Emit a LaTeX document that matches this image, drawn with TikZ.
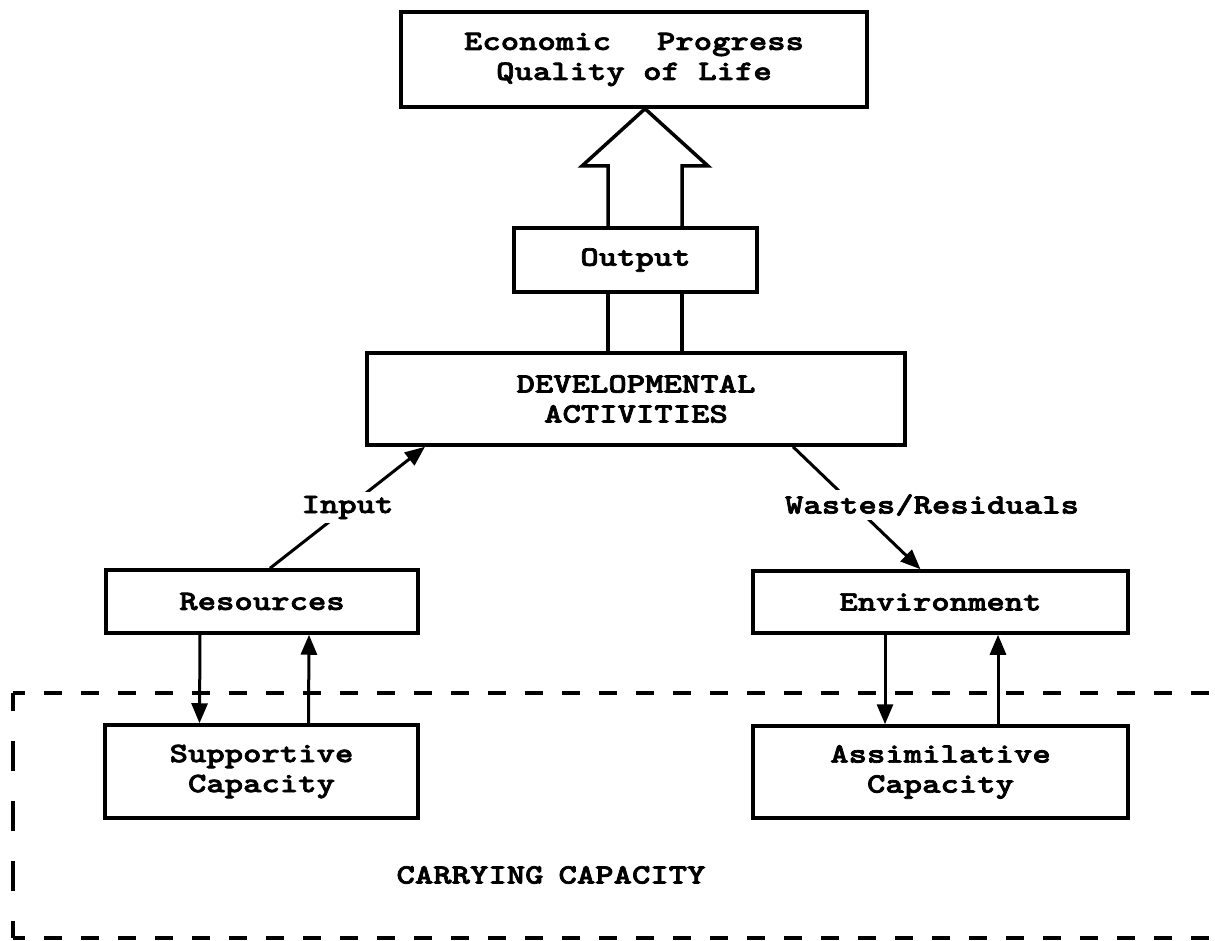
\documentclass[tikz,border=0pt]{standalone}
\usepackage{fontspec}
\usetikzlibrary{arrows.meta,calc}
\newfontfamily\typer{lmmonolt10-bold}[Extension=.otf,FakeStretch=1.25,FakeBold=2.5]

\tikzset{
  box/.style={draw, line width=3.5pt, align=center, inner sep=0pt},
  lbl/.style={fill=white, inner sep=4pt},
  flow/.style={line width=3pt, -{Triangle[length=20pt,width=16pt]}},
  heavy/.style={line width=3.5pt},
}

\begin{document}
\begin{tikzpicture}[x=1pt,y=-1pt,font=\typer\fontsize{28}{30}\selectfont]
\useasboundingbox (0,0) rectangle (1215,941);

\node[box, minimum width=466pt, minimum height=95pt] (goal) at (634,59.5) {Economic\hspace{46pt}Progress\\Quality of Life};
\node[box, minimum width=243pt, minimum height=64pt] (out) at (635.5,260) {Output};
\node[box, minimum width=538pt, minimum height=92pt] (dev) at (636,399) {DEVELOPMENTAL\\ACTIVITIES};

\node[box, minimum width=312pt, minimum height=63pt] (res) at (262,601.5) {Resources};
\node[box, minimum width=375pt, minimum height=62pt] (env) at (940.5,602) {Environment};
\node[box, minimum width=313pt, minimum height=93pt] (sup) at (261.5,771.5) {Supportive\\Capacity};
\node[box, minimum width=375pt, minimum height=92pt] (asm) at (940.5,772) {Assimilative\\Capacity};

\node (carry) at (551,875) {CARRYING\hspace{15pt}CAPACITY};

% carrying capacity frame
\draw[heavy, dash pattern=on 18pt off 19pt, dash phase=6pt] (13,693) -- (1215,693);
\draw[heavy, dash pattern=on 18pt off 19pt, dash phase=6pt] (13,938) -- (1215,938);
\draw[heavy, dash pattern=on 30pt off 30pt, dash phase=12pt] (13,693) -- (13,938);

% broad arrow
\draw[heavy] (608,0 |- out.north) -- (608,166) -- (582,166) -- (645,0 |- goal.south)
  -- (708,166) -- (682,166) -- (682,0 |- out.north);
\draw[heavy] (608,0 |- out.south) -- (608,0 |- dev.north);
\draw[heavy] (682,0 |- out.south) -- (682,0 |- dev.north);

\draw[flow] ([xshift=8pt]res.north) -- node[lbl] (inp) {Input} ([xshift=-211pt]dev.south);
\draw[flow] ([xshift=157pt]dev.south) -- ([xshift=-20pt]env.north);
\node[lbl] (wst) at (932,505) {Wastes/Residuals};

\draw[flow] ([xshift=-62pt]res.south) -- ([xshift=-62pt]sup.north);
\draw[flow] ([xshift=47pt]sup.north) -- ([xshift=47pt]res.south);
\draw[flow] ([xshift=-55.5pt]env.south) -- ([xshift=-55.5pt]asm.north);
\draw[flow] ([xshift=57.5pt]asm.north) -- ([xshift=57.5pt]env.south);
\end{tikzpicture}
\end{document}
